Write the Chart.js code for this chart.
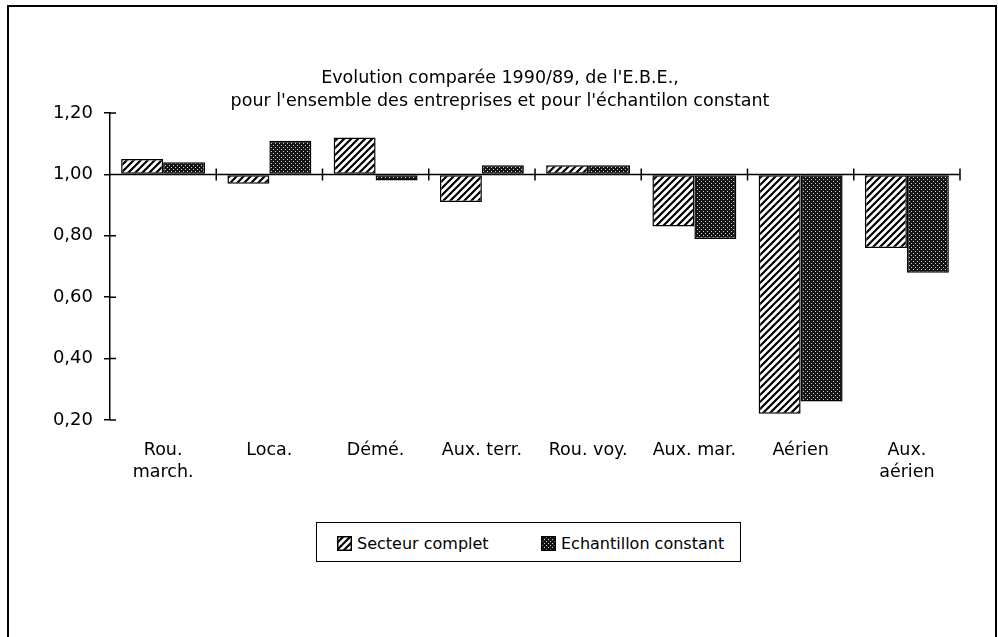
<!DOCTYPE html>
<html>
<head>
<meta charset="utf-8">
<script src="https://cdn.jsdelivr.net/npm/chart.js@4.4.0/dist/chart.umd.min.js"></script>
<style>
  body { margin: 0; background: #fff; }
  #wrap { position: relative; width: 998px; height: 637px; }
  #frame { position: absolute; left: 7px; top: 5px; width: 986px; height: 630px; border: 2px solid #000; border-bottom-color: #ddd; }
  #legend { position: absolute; left: 316px; top: 522px; width: 423px; height: 38px; border: 1.5px solid #000; background: #fff;
            font-family: "DejaVu Sans", sans-serif; font-size: 16px; color: #000; }
  .item { position: absolute; top: 11px; display: flex; align-items: center; }
  .item canvas { margin-right: 5px; }
</style>
</head>
<body>
<div id="wrap">
  <div id="frame"></div>
  <canvas id="chart" width="998" height="637" style="position:absolute;left:0;top:0"></canvas>
  <div id="legend"></div>
</div>
<script>
const categories = [["Rou.", "march."], "Loca.", "Démé.", "Aux. terr.", "Rou. voy.", "Aux. mar.", "Aérien", ["Aux.", "aérien"]];
const secteurComplet = [1.05, 0.97, 1.12, 0.91, 1.03, 0.83, 0.22, 0.76];
const echantillonConstant = [1.04, 1.11, 0.98, 1.03, 1.03, 0.79, 0.26, 0.68];
const seriesNames = ["Secteur complet", "Echantillon constant"];
const titleLines = ["Evolution comparée 1990/89, de l'E.B.E.,", "pour l'ensemble des entreprises et pour l'échantilon constant"];

function hatchPattern() {
    const c = document.createElement("canvas");
    c.width = 7; c.height = 7;
    const g = c.getContext("2d");
    g.fillStyle = "#fff";
    g.fillRect(0, 0, 7, 7);
    g.strokeStyle = "#000";
    g.lineWidth = 2.2;
    g.beginPath();
    g.moveTo(-1, 8); g.lineTo(8, -1);
    g.moveTo(-2, 2); g.lineTo(2, -2);
    g.moveTo(5, 9); g.lineTo(9, 5);
    g.stroke();
    return g.createPattern(c, "repeat");
}

function dotPattern() {
    const c = document.createElement("canvas");
    c.width = 4; c.height = 4;
    const g = c.getContext("2d");
    g.fillStyle = "#151515";
    g.fillRect(0, 0, 4, 4);
    g.fillStyle = "#cfcfcf";
    g.fillRect(1, 1, 1, 1);
    g.fillRect(3, 3, 1, 1);
    return g.createPattern(c, "repeat");
}

const hatch = hatchPattern();
const dots = dotPattern();
const fills = [hatch, dots];

// axis line at 1,00 with crossing ticks, plus inner half of the y ticks
const axisPlugin = {
    id: "axisPlugin",
    afterDatasetsDraw(chart) {
        const ctx = chart.ctx;
        const x = chart.scales.x, y = chart.scales.y;
        const y1 = y.getPixelForValue(1);
        ctx.save();
        ctx.strokeStyle = "#000";
        ctx.lineWidth = 1.5;
        ctx.beginPath();
        ctx.moveTo(chart.chartArea.left, y1);
        ctx.lineTo(chart.chartArea.right, y1);
        for (let i = 1; i <= categories.length; i++) {
            const bx = x.getPixelForValue(i - 0.5);
            ctx.moveTo(bx, y1 - 6);
            ctx.lineTo(bx, y1 + 6);
        }
        y.ticks.forEach(t => {
            const ty = y.getPixelForValue(t.value);
            ctx.moveTo(chart.chartArea.left, ty);
            ctx.lineTo(chart.chartArea.left + 6, ty);
        });
        ctx.stroke();
        ctx.restore();
    }
};

const chart = new Chart(document.getElementById("chart"), {
    type: "bar",
    data: {
        labels: categories,
        datasets: [
            { label: seriesNames[0], data: secteurComplet, base: 1, backgroundColor: hatch, borderColor: "#000", borderWidth: 1.5, borderSkipped: false },
            { label: seriesNames[1], data: echantillonConstant, base: 1, backgroundColor: dots, borderColor: "#000", borderWidth: 1.5, borderSkipped: false }
        ]
    },
    options: {
        responsive: false,
        animation: false,
        layout: { padding: { left: 40, right: 38, top: 0, bottom: 137 } },
        datasets: { bar: { categoryPercentage: 0.79, barPercentage: 1 } },
        plugins: {
            legend: { display: false },
            tooltip: { enabled: false },
            title: {
                display: true,
                text: titleLines,
                color: "#000",
                font: { family: "DejaVu Sans", size: 17.5, weight: "normal", lineHeight: 1.315 },
                padding: { top: 67, bottom: 0 }
            }
        },
        scales: {
            x: {
                grid: { display: false, drawTicks: false },
                border: { display: false },
                ticks: { color: "#000", font: { family: "DejaVu Sans", size: 17.5, lineHeight: 1.27 }, padding: 19, maxRotation: 0, autoSkip: false },
                afterFit(scale) { scale.height = 80; }
            },
            y: {
                min: 0.2,
                max: 1.2,
                grid: { drawOnChartArea: false, color: "#000", tickLength: 6, lineWidth: 1.5 },
                border: { color: "#000", width: 1.5 },
                ticks: {
                    stepSize: 0.2,
                    color: "#000",
                    font: { family: "DejaVu Sans", size: 18 },
                    padding: 11,
                    callback: v => v.toFixed(2).replace(".", ",")
                },
                afterFit(scale) { scale.width = 70; }
            }
        }
    },
    plugins: [axisPlugin]
});

// legend drawn in html with the same patterns
const legend = document.getElementById("legend");
const legendX = [20, 224];
seriesNames.forEach((name, i) => {
    const item = document.createElement("div");
    item.className = "item";
    item.style.left = legendX[i] + "px";
    const sw = document.createElement("canvas");
    sw.width = 15; sw.height = 15;
    const g = sw.getContext("2d");
    g.fillStyle = fills[i];
    g.fillRect(0, 0, 15, 15);
    g.strokeStyle = "#000";
    g.lineWidth = 1.5;
    g.strokeRect(0.75, 0.75, 13.5, 13.5);
    const txt = document.createElement("span");
    txt.innerText = name;
    item.appendChild(sw);
    item.appendChild(txt);
    legend.appendChild(item);
});
</script>
</body>
</html>
